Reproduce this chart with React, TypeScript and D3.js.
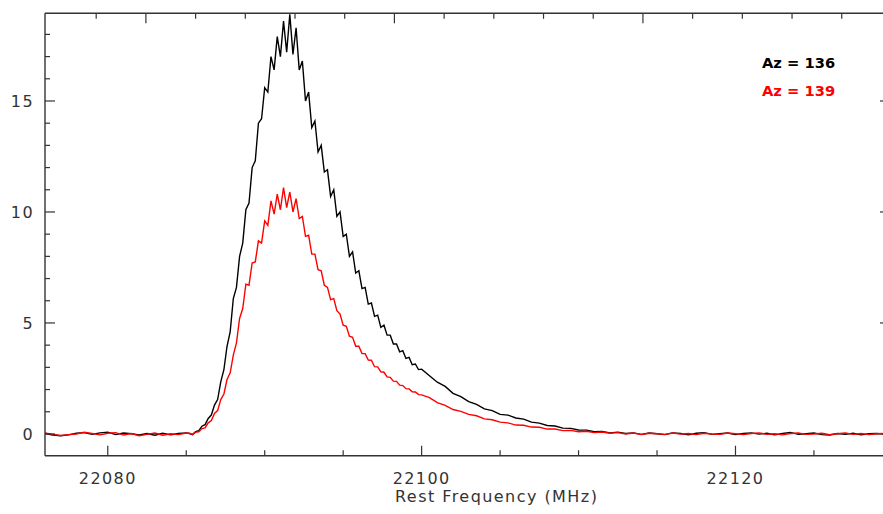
import React from "react";
import * as d3 from "d3";

// Channel frequencies (MHz)
const freq: number[] = [
  22076.0, 22076.5, 22077.0, 22077.5, 22078.0, 22078.5, 22079.0, 22079.5, 22080.0, 22080.5,
  22081.0, 22081.5, 22082.0, 22082.5, 22083.0, 22083.5, 22084.0, 22084.5, 22085.0,
  22085.2, 22085.4, 22085.6, 22085.8, 22086.0, 22086.2, 22086.4, 22086.6, 22086.8, 22087.0,
  22087.2, 22087.4, 22087.6, 22087.8, 22088.0, 22088.2, 22088.4, 22088.6, 22088.8, 22089.0,
  22089.2, 22089.4, 22089.6, 22089.8, 22090.0, 22090.2, 22090.4, 22090.6, 22090.8, 22091.0,
  22091.2, 22091.4, 22091.6, 22091.8, 22092.0, 22092.2, 22092.4, 22092.6, 22092.8, 22093.0,
  22093.2, 22093.4, 22093.6, 22093.8, 22094.0, 22094.2, 22094.4, 22094.6, 22094.8, 22095.0,
  22095.2, 22095.4, 22095.6, 22095.8, 22096.0, 22096.2, 22096.4, 22096.6, 22096.8, 22097.0,
  22097.2, 22097.4, 22097.6, 22097.8, 22098.0, 22098.2, 22098.4, 22098.6, 22098.8, 22099.0,
  22099.2, 22099.4, 22099.6, 22099.8, 22100.0,
  22100.5, 22101.0, 22101.5, 22102.0, 22102.5, 22103.0, 22103.5, 22104.0, 22104.5, 22105.0,
  22105.5, 22106.0, 22106.5, 22107.0, 22107.5, 22108.0, 22108.5, 22109.0, 22109.5, 22110.0,
  22110.5, 22111.0, 22111.5, 22112.0, 22112.5, 22113.0, 22113.5, 22114.0, 22114.5, 22115.0,
  22115.5, 22116.0, 22116.5, 22117.0, 22117.5, 22118.0, 22118.5, 22119.0, 22119.5, 22120.0,
  22120.5, 22121.0, 22121.5, 22122.0, 22122.5, 22123.0, 22123.5, 22124.0, 22124.5, 22125.0,
  22125.5, 22126.0, 22126.5, 22127.0, 22127.5, 22128.0, 22128.5, 22129.0, 22129.5,
];

// Az = 136 (black)
const az136: number[] = [
  0.02, -0.05, -0.08, -0.04, 0.03, 0.06, -0.02, 0.05, 0.08, -0.03,
  0.04, 0.01, -0.05, 0.02, -0.06, 0.03, -0.04, 0.02, 0.05,
  0.02, -0.03, 0.10, 0.15, 0.35, 0.42, 0.70, 0.85, 1.30, 1.55,
  2.35, 2.90, 3.95, 4.60, 6.10, 6.60, 8.00, 8.60, 10.10, 10.40,
  12.00, 12.30, 14.00, 14.20, 15.60, 15.40, 17.00, 16.40, 17.90, 17.00,
  18.60, 17.20, 18.90, 17.10, 18.30, 16.40, 16.80, 15.00, 15.40, 13.80,
  14.10, 12.70, 13.00, 11.80, 11.90, 10.70, 11.00, 9.80, 10.00, 8.90,
  9.00, 8.00, 8.20, 7.25, 7.35, 6.55, 6.60, 5.85, 5.90, 5.30,
  5.35, 4.80, 4.90, 4.45, 4.45, 4.05, 4.05, 3.70, 3.75, 3.40,
  3.45, 3.12, 3.15, 2.90, 2.92,
  2.62, 2.33, 2.14, 1.83, 1.68, 1.46, 1.33, 1.13, 1.05, 0.88,
  0.85, 0.72, 0.67, 0.53, 0.49, 0.38, 0.36, 0.26, 0.25, 0.18,
  0.17, 0.10, 0.11, 0.05, 0.08, 0.02, 0.05, -0.02, 0.04, 0.01,
  -0.03, 0.05, 0.02, -0.04, 0.03, 0.06, -0.02, 0.01, 0.04, -0.03,
  0.02, 0.05, -0.01, 0.03, -0.04, 0.02, 0.07, -0.02, 0.01, 0.04,
  -0.03, -0.05, 0.02, -0.02, 0.03, -0.04, 0.01, 0.02, -0.01,
];

// Az = 139 (red)
const az139: number[] = [
  0.05, -0.02, -0.07, -0.03, 0.0, 0.08, 0.02, -0.04, 0.03, 0.06,
  -0.05, 0.02, -0.08, -0.02, 0.04, -0.06, 0.01, -0.03, 0.04,
  0.03, -0.02, 0.08, 0.10, 0.24, 0.27, 0.50, 0.60, 0.92, 1.05,
  1.55, 1.80, 2.45, 2.75, 3.55, 4.10, 5.20, 5.65, 6.75, 6.70,
  7.70, 7.75, 8.70, 8.60, 9.60, 9.40, 10.50, 9.90, 10.80, 10.10,
  11.10, 10.20, 10.90, 10.00, 10.60, 9.70, 9.80, 8.90, 8.95, 8.10,
  8.10, 7.40, 7.35, 6.70, 6.60, 6.05, 6.10, 5.55, 5.40, 4.90,
  4.85, 4.40, 4.35, 3.95, 3.95, 3.62, 3.62, 3.33, 3.32, 3.03,
  3.02, 2.80, 2.78, 2.57, 2.55, 2.38, 2.37, 2.20, 2.18, 2.04,
  2.03, 1.90, 1.89, 1.77, 1.76,
  1.64, 1.41, 1.29, 1.10, 1.02, 0.88, 0.82, 0.68, 0.64, 0.53,
  0.50, 0.40, 0.39, 0.31, 0.30, 0.22, 0.22, 0.15, 0.16, 0.10,
  0.12, 0.06, 0.09, 0.03, 0.06, 0.0, 0.04, -0.03, 0.03, 0.01,
  -0.02, 0.04, -0.01, 0.02, -0.03, 0.03, 0.0, -0.02, 0.04, 0.01,
  -0.03, 0.02, 0.05, -0.02, 0.01, -0.04, 0.02, 0.04, -0.02, 0.0,
  0.03, -0.03, 0.01, 0.04, -0.02, 0.02, -0.03, 0.01, 0.02,
];

const xMajorTicks = [22080, 22100, 22120];
const xMinorTicks = [22085, 22090, 22095, 22105, 22110, 22115, 22125];
const yMajorTicks = [0, 5, 10, 15];
const yMinorTicks = [1, 2, 3, 4, 6, 7, 8, 9, 11, 12, 13, 14, 16, 17, 18];
const topMajorTicks = [0, 5, 10];
const topMinorTicks = [-1, 1, 2, 3, 4, 6, 7, 8, 9, 11, 12, 13, 14];
const rightTicks = [5, 10, 15];
const legendLabels = ["Az = 136", "Az = 139"];
const seriesColors = ["#000000", "#ff0000"];

export default function App() {
  const W = 883, H = 514;
  const left = 45, right = 883, top = 13.3, bottom = 455.7;
  const x = d3.scaleLinear().domain([22076, 22129.4]).range([left, right]);
  const y = d3.scaleLinear().domain([-0.98, 18.95]).range([bottom, top]);
  const xTop = d3.scaleLinear().domain([-2.03, 14.83]).range([left, right]);

  const line = d3
    .line<number>()
    .x((_, i) => x(freq[i]))
    .y((d) => y(d))
    .curve(d3.curveLinear);

  const axisColor = "#333";
  const font = "'DejaVu Sans', sans-serif";

  return (
    <div style={{ position: "absolute", left: 0, top: 0 }}>
      <svg width={W} height={H} style={{ display: "block", background: "#fff" }}>
        <defs>
          <clipPath id="plotclip">
            <rect x={left} y={top} width={right - left} height={bottom - top} />
          </clipPath>
        </defs>
        <g clipPath="url(#plotclip)">
          <path d={line(az136) || ""} fill="none" stroke={seriesColors[0]} strokeWidth={1.4} />
          <path d={line(az139) || ""} fill="none" stroke={seriesColors[1]} strokeWidth={1.4} />
        </g>
        {/* frame */}
        <line x1={left} x2={right + 2} y1={top} y2={top} stroke={axisColor} strokeWidth={1.4} />
        <line x1={left} x2={right + 2} y1={bottom} y2={bottom} stroke={axisColor} strokeWidth={1.4} />
        <line x1={left} x2={left} y1={top} y2={bottom} stroke={axisColor} strokeWidth={1.4} />
        {/* bottom ticks */}
        {xMajorTicks.map((t) => (
          <line key={"xM" + t} x1={x(t)} x2={x(t)} y1={bottom} y2={bottom - 10} stroke={axisColor} strokeWidth={1.2} />
        ))}
        {xMinorTicks.map((t) => (
          <line key={"xm" + t} x1={x(t)} x2={x(t)} y1={bottom} y2={bottom - 5.5} stroke={axisColor} strokeWidth={1.2} />
        ))}
        {/* top ticks */}
        {topMajorTicks.map((t) => (
          <line key={"tM" + t} x1={xTop(t)} x2={xTop(t)} y1={top} y2={top + 10} stroke={axisColor} strokeWidth={1.2} />
        ))}
        {topMinorTicks.map((t) => (
          <line key={"tm" + t} x1={xTop(t)} x2={xTop(t)} y1={top} y2={top + 5.5} stroke={axisColor} strokeWidth={1.2} />
        ))}
        {/* left ticks */}
        {yMajorTicks.map((t) => (
          <line key={"yM" + t} x1={left} x2={left + 10} y1={y(t)} y2={y(t)} stroke={axisColor} strokeWidth={1.2} />
        ))}
        {yMinorTicks.map((t) => (
          <line key={"ym" + t} x1={left} x2={left + 5} y1={y(t)} y2={y(t)} stroke={axisColor} strokeWidth={1.2} />
        ))}
        {/* right ticks */}
        {rightTicks.map((t) => (
          <line key={"r" + t} x1={right - 3} x2={right} y1={y(t)} y2={y(t)} stroke={axisColor} strokeWidth={1.2} />
        ))}
        {/* tick labels */}
        {xMajorTicks.map((t) => (
          <text key={"xl" + t} x={x(t)} y={484} textAnchor="middle" fontFamily={font} fontSize={16}
            letterSpacing={1.4} fill="#333">{t}</text>
        ))}
        {yMajorTicks.map((t) => (
          <text key={"yl" + t} x={34} y={y(t) + 6} textAnchor="end" fontFamily={font} fontSize={16}
            letterSpacing={1.4} fill="#333">{t}</text>
        ))}
        <text x={496.7} y={502} textAnchor="middle" fontFamily={font} fontSize={16} letterSpacing={1.45} fill="#333">
          Rest Frequency (MHz)
        </text>
        {/* legend */}
        {legendLabels.map((l, i) => (
          <text key={l} x={762} y={67.7 + i * 28} fontFamily={font} fontSize={14.7} fontWeight="bold" fill={seriesColors[i]}>
            {l}
          </text>
        ))}
      </svg>
    </div>
  );
}
